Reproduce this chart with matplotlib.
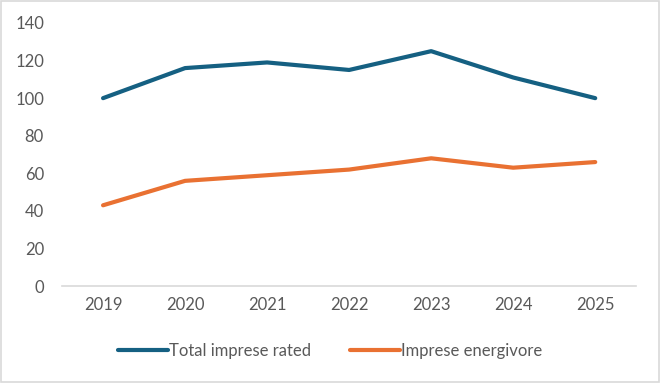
import matplotlib.pyplot as plt
from matplotlib.patches import Rectangle

# Dati
anni = ['2019', '2020', '2021', '2022', '2023', '2024', '2025']
totale_rated = [100, 116, 119, 115, 125, 111, 100]
energivore = [43, 56, 59, 62, 68, 63, 66]

plt.rcParams['font.family'] = ['Lato', 'DejaVu Sans']

fig = plt.figure(figsize=(6.6, 3.83), dpi=100)
ax = fig.add_axes([0.094, 0.253, 0.870, 0.687])

x = range(len(anni))
ax.plot(x, totale_rated, color='#156082', lw=3, solid_capstyle='round',
        solid_joinstyle='round', label='Total imprese rated')
ax.plot(x, energivore, color='#E97132', lw=3, solid_capstyle='round',
        solid_joinstyle='round', label='Imprese energivore')

ax.set_xlim(-0.5, len(anni) - 0.5)
ax.set_ylim(0, 140)
ax.set_yticks(range(0, 141, 20))
ax.set_xticks(list(x))
ax.set_xticklabels(anni)

for s in ['top', 'right', 'left']:
    ax.spines[s].set_visible(False)
ax.spines['bottom'].set_color('#D9D9D9')
ax.spines['bottom'].set_linewidth(1.2)
ax.tick_params(axis='both', length=0, labelsize=12, colors='#595959')
ax.tick_params(axis='y', pad=13)
ax.tick_params(axis='x', pad=8)

leg = fig.legend(loc='center', bbox_to_anchor=(0.5, 0.083), ncol=2, frameon=False,
                 fontsize=12, handlelength=3.0, handletextpad=0.1, columnspacing=2.3)
for t in leg.get_texts():
    t.set_color('#595959')

fig.patches.append(Rectangle((0.002, 0.003), 0.996, 0.994, transform=fig.transFigure,
                             fill=False, edgecolor='#D9D9D9', lw=1.2))

fig.savefig('out.png', dpi=100)
